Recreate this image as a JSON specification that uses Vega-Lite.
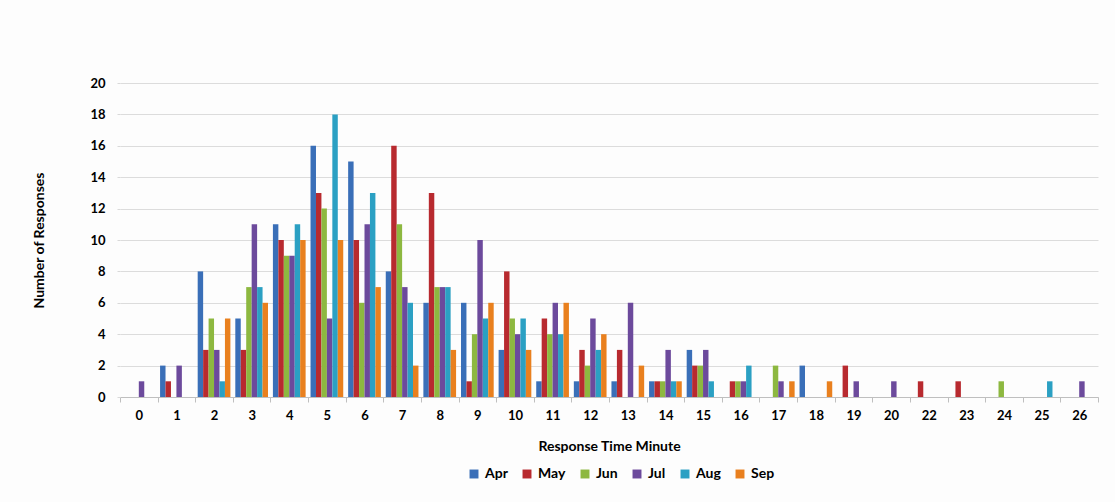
{
  "$schema": "https://vega.github.io/schema/vega-lite/v6.json",
  "autosize": {"type": "none"},
  "width": 978,
  "height": 314,
  "padding": {"left": 120, "top": 83, "right": 17, "bottom": 105},
  "background": "#fdfdfd",
  "config": {"view": {"stroke": null}},
  "data": {
    "values": [
      {"minute": "0", "month": "Jul", "count": 1},
      {"minute": "1", "month": "Apr", "count": 2},
      {"minute": "1", "month": "May", "count": 1},
      {"minute": "1", "month": "Jul", "count": 2},
      {"minute": "2", "month": "Apr", "count": 8},
      {"minute": "2", "month": "May", "count": 3},
      {"minute": "2", "month": "Jun", "count": 5},
      {"minute": "2", "month": "Jul", "count": 3},
      {"minute": "2", "month": "Aug", "count": 1},
      {"minute": "2", "month": "Sep", "count": 5},
      {"minute": "3", "month": "Apr", "count": 5},
      {"minute": "3", "month": "May", "count": 3},
      {"minute": "3", "month": "Jun", "count": 7},
      {"minute": "3", "month": "Jul", "count": 11},
      {"minute": "3", "month": "Aug", "count": 7},
      {"minute": "3", "month": "Sep", "count": 6},
      {"minute": "4", "month": "Apr", "count": 11},
      {"minute": "4", "month": "May", "count": 10},
      {"minute": "4", "month": "Jun", "count": 9},
      {"minute": "4", "month": "Jul", "count": 9},
      {"minute": "4", "month": "Aug", "count": 11},
      {"minute": "4", "month": "Sep", "count": 10},
      {"minute": "5", "month": "Apr", "count": 16},
      {"minute": "5", "month": "May", "count": 13},
      {"minute": "5", "month": "Jun", "count": 12},
      {"minute": "5", "month": "Jul", "count": 5},
      {"minute": "5", "month": "Aug", "count": 18},
      {"minute": "5", "month": "Sep", "count": 10},
      {"minute": "6", "month": "Apr", "count": 15},
      {"minute": "6", "month": "May", "count": 10},
      {"minute": "6", "month": "Jun", "count": 6},
      {"minute": "6", "month": "Jul", "count": 11},
      {"minute": "6", "month": "Aug", "count": 13},
      {"minute": "6", "month": "Sep", "count": 7},
      {"minute": "7", "month": "Apr", "count": 8},
      {"minute": "7", "month": "May", "count": 16},
      {"minute": "7", "month": "Jun", "count": 11},
      {"minute": "7", "month": "Jul", "count": 7},
      {"minute": "7", "month": "Aug", "count": 6},
      {"minute": "7", "month": "Sep", "count": 2},
      {"minute": "8", "month": "Apr", "count": 6},
      {"minute": "8", "month": "May", "count": 13},
      {"minute": "8", "month": "Jun", "count": 7},
      {"minute": "8", "month": "Jul", "count": 7},
      {"minute": "8", "month": "Aug", "count": 7},
      {"minute": "8", "month": "Sep", "count": 3},
      {"minute": "9", "month": "Apr", "count": 6},
      {"minute": "9", "month": "May", "count": 1},
      {"minute": "9", "month": "Jun", "count": 4},
      {"minute": "9", "month": "Jul", "count": 10},
      {"minute": "9", "month": "Aug", "count": 5},
      {"minute": "9", "month": "Sep", "count": 6},
      {"minute": "10", "month": "Apr", "count": 3},
      {"minute": "10", "month": "May", "count": 8},
      {"minute": "10", "month": "Jun", "count": 5},
      {"minute": "10", "month": "Jul", "count": 4},
      {"minute": "10", "month": "Aug", "count": 5},
      {"minute": "10", "month": "Sep", "count": 3},
      {"minute": "11", "month": "Apr", "count": 1},
      {"minute": "11", "month": "May", "count": 5},
      {"minute": "11", "month": "Jun", "count": 4},
      {"minute": "11", "month": "Jul", "count": 6},
      {"minute": "11", "month": "Aug", "count": 4},
      {"minute": "11", "month": "Sep", "count": 6},
      {"minute": "12", "month": "Apr", "count": 1},
      {"minute": "12", "month": "May", "count": 3},
      {"minute": "12", "month": "Jun", "count": 2},
      {"minute": "12", "month": "Jul", "count": 5},
      {"minute": "12", "month": "Aug", "count": 3},
      {"minute": "12", "month": "Sep", "count": 4},
      {"minute": "13", "month": "Apr", "count": 1},
      {"minute": "13", "month": "May", "count": 3},
      {"minute": "13", "month": "Jul", "count": 6},
      {"minute": "13", "month": "Sep", "count": 2},
      {"minute": "14", "month": "Apr", "count": 1},
      {"minute": "14", "month": "May", "count": 1},
      {"minute": "14", "month": "Jun", "count": 1},
      {"minute": "14", "month": "Jul", "count": 3},
      {"minute": "14", "month": "Aug", "count": 1},
      {"minute": "14", "month": "Sep", "count": 1},
      {"minute": "15", "month": "Apr", "count": 3},
      {"minute": "15", "month": "May", "count": 2},
      {"minute": "15", "month": "Jun", "count": 2},
      {"minute": "15", "month": "Jul", "count": 3},
      {"minute": "15", "month": "Aug", "count": 1},
      {"minute": "16", "month": "May", "count": 1},
      {"minute": "16", "month": "Jun", "count": 1},
      {"minute": "16", "month": "Jul", "count": 1},
      {"minute": "16", "month": "Aug", "count": 2},
      {"minute": "17", "month": "Jun", "count": 2},
      {"minute": "17", "month": "Jul", "count": 1},
      {"minute": "17", "month": "Sep", "count": 1},
      {"minute": "18", "month": "Apr", "count": 2},
      {"minute": "18", "month": "Sep", "count": 1},
      {"minute": "19", "month": "May", "count": 2},
      {"minute": "19", "month": "Jul", "count": 1},
      {"minute": "20", "month": "Jul", "count": 1},
      {"minute": "22", "month": "May", "count": 1},
      {"minute": "23", "month": "May", "count": 1},
      {"minute": "24", "month": "Jun", "count": 1},
      {"minute": "25", "month": "Aug", "count": 1},
      {"minute": "26", "month": "Jul", "count": 1}
    ]
  },
  "mark": {"type": "bar"},
  "encoding": {
    "x": {
      "field": "minute",
      "type": "nominal",
      "sort": ["0","1","2","3","4","5","6","7","8","9","10","11","12","13","14","15","16","17","18","19","20","22","23","24","25","26"],
      "scale": {"paddingInner": 0, "paddingOuter": 0},
      "axis": {
        "title": "Response Time Minute",
        "labelAngle": 0,
        "tickBand": "extent",
        "labelFont": "Lato",
        "labelFontSize": 13,
        "labelFontWeight": "bold",
        "labelColor": "#000000",
        "labelPadding": 7,
        "domainColor": "#bfbfbf",
        "tickColor": "#bfbfbf",
        "tickSize": 5,
        "titleFont": "Lato",
        "titleFontSize": 14,
        "titleFontWeight": "bold",
        "titleColor": "#000000",
        "titlePadding": 17
      }
    },
    "xOffset": {
      "field": "month",
      "type": "nominal",
      "sort": ["Apr","May","Jun","Jul","Aug","Sep"],
      "scale": {"paddingInner": 0, "paddingOuter": 0.45}
    },
    "y": {
      "field": "count",
      "type": "quantitative",
      "scale": {"domain": [0, 20]},
      "axis": {
        "title": "Number of Responses",
        "values": [0,2,4,6,8,10,12,14,16,18,20],
        "domain": false,
        "tickSize": 3,
        "tickColor": "#d9d9d9",
        "gridColor": "#dcdcdc",
        "labelFont": "Lato",
        "labelFontSize": 13,
        "labelFontWeight": "bold",
        "labelColor": "#000000",
        "labelPadding": 12,
        "titleFont": "Lato",
        "titleFontSize": 14,
        "titleFontWeight": "bold",
        "titleColor": "#000000",
        "titlePadding": 43
      }
    },
    "color": {
      "field": "month",
      "type": "nominal",
      "sort": ["Apr","May","Jun","Jul","Aug","Sep"],
      "scale": {
        "domain": ["Apr","May","Jun","Jul","Aug","Sep"],
        "range": ["#3a6fb8","#b82a2f","#8db840","#6c4a9c","#2ba0c3","#e9801e"]
      },
      "legend": {
        "title": null,
        "orient": "none",
        "direction": "horizontal",
        "legendX": 347,
        "legendY": 384,
        "symbolType": "square",
        "symbolSize": 80,
        "symbolStrokeWidth": 0,
        "symbolOpacity": 1,
        "labelFont": "Lato",
        "labelFontSize": 14,
        "labelFontWeight": "bold",
        "labelColor": "#000000",
        "labelOffset": 4,
        "columnPadding": 12
      }
    }
  }
}
